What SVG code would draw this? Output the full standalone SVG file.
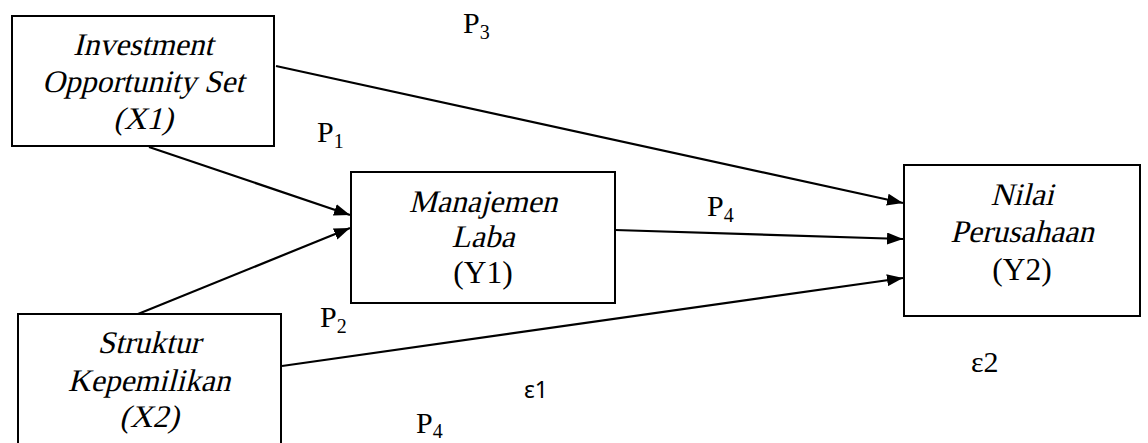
<svg xmlns="http://www.w3.org/2000/svg" width="1148" height="443" viewBox="0 0 1148 443">
<defs>
<style>
.box{fill:#fff;stroke:#000;stroke-width:2}
.t{font-family:"Liberation Serif","Times New Roman",serif;font-size:31.5px;font-style:normal;fill:#000;text-anchor:middle}
.lbl{font-family:"Liberation Serif","Times New Roman",serif;font-size:30px;fill:#000}
.sub{font-size:20px}
.eps{font-family:"Noto Sans","DejaVu Sans",sans-serif;font-size:23px;fill:#000}
.ln{stroke:#000;stroke-width:2.2;fill:none;marker-end:url(#ah)}
</style>
<marker id="ah" viewBox="0 0 16 12" refX="16" refY="6" markerWidth="16" markerHeight="12" markerUnits="userSpaceOnUse" orient="auto">
<path d="M0,0 L16,6 L0,12 z" fill="#000"/>
</marker>
</defs>
<rect width="1148" height="443" fill="#fff"/>
<g id="connectors">
<line class="ln" x1="276" y1="66" x2="903" y2="203"/>
<line class="ln" x1="149" y1="147" x2="350" y2="215"/>
<line class="ln" x1="138" y1="314" x2="350" y2="228"/>
<line class="ln" x1="615" y1="230" x2="903" y2="239"/>
<line class="ln" x1="282" y1="366" x2="903" y2="278"/>
</g>
<g id="node-x1">
<rect class="box" x="12" y="16" width="262" height="130"/>
<text class="t" transform="translate(143,55) skewX(-14)">Investment</text>
<text class="t" transform="translate(143,92) skewX(-14)">Opportunity Set</text>
<text class="t" transform="translate(143,129) skewX(-14)">(X1)</text>
</g>
<g id="node-y1">
<rect class="box" x="351" y="172" width="264" height="131"/>
<text class="t" transform="translate(483,212) skewX(-14)">Manajemen</text>
<text class="t" transform="translate(483,247) skewX(-14)">Laba</text>
<text class="t" x="483" y="283">(Y1)</text>
</g>
<g id="node-y2">
<rect class="box" x="904" y="165" width="236" height="151"/>
<text class="t" transform="translate(1022,205) skewX(-14)">Nilai</text>
<text class="t" transform="translate(1022,242) skewX(-14)">Perusahaan</text>
<text class="t" x="1022" y="280">(Y2)</text>
</g>
<g id="node-x2">
<rect class="box" x="18" y="314" width="263" height="140"/>
<text class="t" transform="translate(149,353) skewX(-14)">Struktur</text>
<text class="t" transform="translate(149,391) skewX(-14)">Kepemilikan</text>
<text class="t" transform="translate(149,427) skewX(-14)">(X2)</text>
</g>
<g id="labels">
<text class="lbl" x="463" y="33">P<tspan class="sub" dy="6">3</tspan></text>
<text class="lbl" x="317" y="142">P<tspan class="sub" dy="6">1</tspan></text>
<text class="lbl" x="707" y="216">P<tspan class="sub" dy="6">4</tspan></text>
<text class="lbl" x="320" y="327">P<tspan class="sub" dy="6">2</tspan></text>
<text class="lbl" x="416" y="433">P<tspan class="sub" dy="5">4</tspan></text>
<text class="eps" x="524" y="398">ε1</text>
<text class="lbl" x="971" y="372">ε2</text>
</g>
</svg>
